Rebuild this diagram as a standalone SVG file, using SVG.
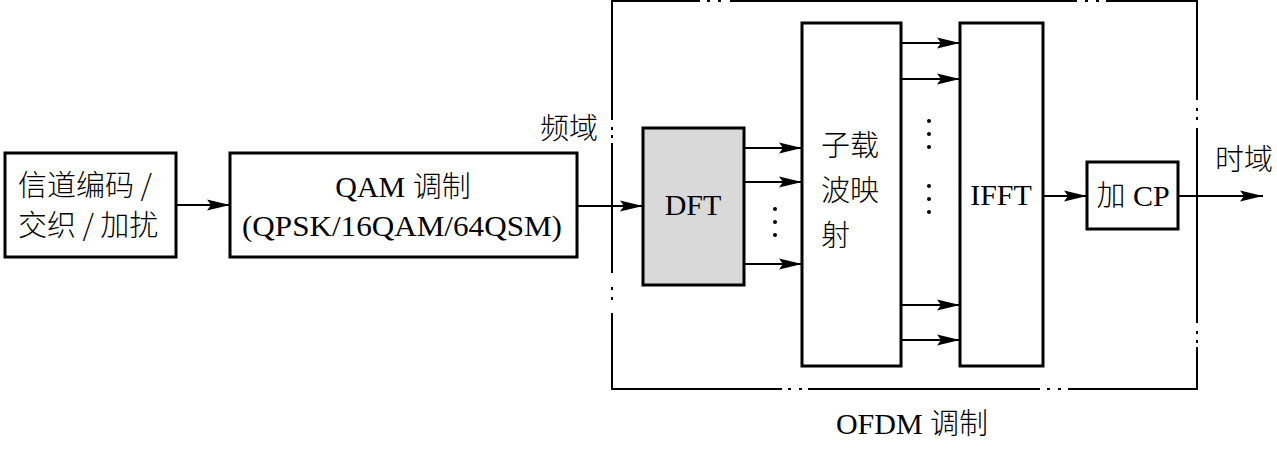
<svg xmlns="http://www.w3.org/2000/svg" width="1277" height="454" viewBox="0 0 1277 454">
<style>
.box{fill:#fff;stroke:#000;stroke-width:3}
.gray{fill:#d9d9d9}
.t{font-family:"Liberation Serif","Noto Sans CJK SC",serif;font-size:30px;fill:#000}
.c{font-family:"Noto Sans CJK SC","Liberation Serif",sans-serif;font-size:29px;fill:#000;font-weight:300}
.ln{stroke:#000;stroke-width:2;fill:none}
.fr{stroke:#000;stroke-width:2;fill:none}
</style>
<defs>
<marker id="ah" markerUnits="userSpaceOnUse" markerWidth="26" markerHeight="12" refX="23" refY="5.5" orient="auto" overflow="visible">
<path d="M0,0 L23,5.5 L0,11 L4,5.5 z" fill="#000"/>
</marker>
</defs>
<g id="ofdm-frame">
<path class="fr" d="M612,120 V1 H700 M730,1 H1077 M1106,1 H1197 V100 M1197,128 V323 M1197,347 V389 H1068 M1040,389 H808 M782,389 H612 V313 M612,273 V143"/>
<g fill="#000">
<rect x="707" y="0" width="3" height="2"/><rect x="718" y="0" width="3" height="2"/>
<rect x="1085" y="0" width="3" height="2"/><rect x="1096" y="0" width="3" height="2"/>
<rect x="788" y="388" width="3" height="2"/><rect x="799" y="388" width="3" height="2"/>
<rect x="1047" y="388" width="3" height="2"/><rect x="1058" y="388" width="3" height="2"/>
<rect x="611" y="127" width="2" height="3"/><rect x="611" y="135" width="2" height="3"/>
<rect x="611" y="287" width="2" height="3"/><rect x="611" y="297" width="2" height="3"/>
<rect x="1196" y="108" width="2" height="3"/><rect x="1196" y="117" width="2" height="3"/>
<rect x="1196" y="331" width="2" height="3"/><rect x="1196" y="340" width="2" height="3"/>
</g>
<text class="t" x="912" y="434" text-anchor="middle">OFDM <tspan class="c">调制</tspan></text>
</g>
<g id="coding">
<rect class="box" x="5" y="153" width="171" height="104"/>
<text class="c" x="18" y="196">信道编码 /</text>
<text class="c" x="18" y="236">交织 / 加扰</text>
</g>
<g id="qam">
<rect class="box" x="230" y="153" width="347" height="104"/>
<text class="t" x="403" y="197" text-anchor="middle">QAM <tspan class="c">调制</tspan></text>
<text class="t" x="402" y="236" text-anchor="middle" textLength="320" lengthAdjust="spacingAndGlyphs">(QPSK/16QAM/64QSM)</text>
</g>
<g id="dft">
<rect class="box gray" x="643" y="128" width="101" height="157"/>
<text class="t" x="693" y="215" text-anchor="middle">DFT</text>
</g>
<g id="mapping">
<rect class="box" x="802" y="23" width="99" height="343"/>
<text class="c" x="821" y="156">子载</text>
<text class="c" x="821" y="201">波映</text>
<text class="c" x="821" y="246">射</text>
</g>
<g id="ifft">
<rect class="box" x="960" y="23" width="83" height="343"/>
<text class="t" x="1001" y="205" text-anchor="middle">IFFT</text>
</g>
<g id="addcp">
<rect class="box" x="1087" y="162" width="91" height="67"/>
<text class="t" x="1133" y="206" text-anchor="middle"><tspan class="c">加</tspan> CP</text>
</g>
<g id="labels">
<text class="c" x="540" y="139">频域</text>
<text class="c" x="1215" y="170">时域</text>
</g>
<g id="connectors">
<line class="ln" x1="176" y1="205" x2="230" y2="205" marker-end="url(#ah)"/>
<line class="ln" x1="577" y1="206" x2="643" y2="206" marker-end="url(#ah)"/>
<line class="ln" x1="744" y1="148" x2="802" y2="148" marker-end="url(#ah)"/>
<line class="ln" x1="744" y1="182" x2="802" y2="182" marker-end="url(#ah)"/>
<line class="ln" x1="744" y1="264" x2="802" y2="264" marker-end="url(#ah)"/>
<line class="ln" x1="901" y1="43" x2="960" y2="43" marker-end="url(#ah)"/>
<line class="ln" x1="901" y1="79" x2="960" y2="79" marker-end="url(#ah)"/>
<line class="ln" x1="901" y1="305" x2="960" y2="305" marker-end="url(#ah)"/>
<line class="ln" x1="901" y1="340" x2="960" y2="340" marker-end="url(#ah)"/>
<line class="ln" x1="1043" y1="196" x2="1087" y2="196" marker-end="url(#ah)"/>
<line class="ln" x1="1178" y1="196" x2="1263" y2="196" marker-end="url(#ah)"/>
<g fill="#000">
<circle cx="775" cy="209" r="2"/><circle cx="775" cy="222" r="2"/><circle cx="775" cy="235" r="2"/>
<circle cx="929" cy="121" r="2"/><circle cx="929" cy="134" r="2"/><circle cx="929" cy="147" r="2"/>
<circle cx="929" cy="186" r="2"/><circle cx="929" cy="199" r="2"/><circle cx="929" cy="212" r="2"/>
</g>
</g>
</svg>
